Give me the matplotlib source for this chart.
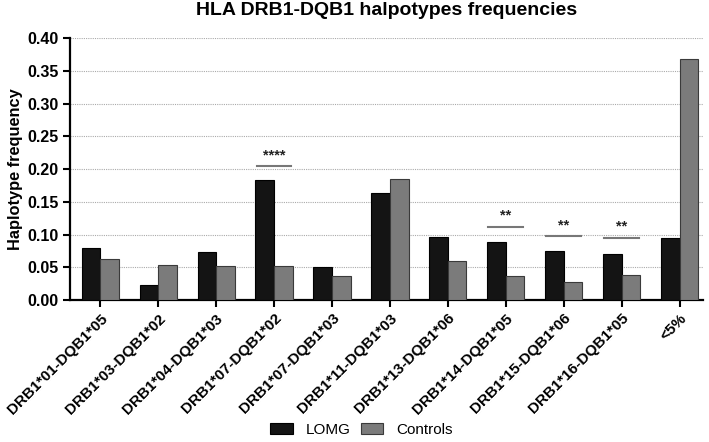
"""HLA DRB1-DQB1 haplotype frequencies bar chart."""

import matplotlib.pyplot as plt
import numpy as np

plt.rcParams["font.family"] = ["Liberation Sans", "DejaVu Sans"]

# 数据
categories = [
    "DRB1*01-DQB1*05", "DRB1*03-DQB1*02", "DRB1*04-DQB1*03",
    "DRB1*07-DQB1*02", "DRB1*07-DQB1*03", "DRB1*11-DQB1*03",
    "DRB1*13-DQB1*06", "DRB1*14-DQB1*05", "DRB1*15-DQB1*06",
    "DRB1*16-DQB1*05", "<5%",
]
lomg = [0.079, 0.023, 0.074, 0.183, 0.050, 0.163, 0.096, 0.088, 0.075, 0.070, 0.095]
controls = [0.063, 0.053, 0.052, 0.052, 0.037, 0.185, 0.059, 0.037, 0.028, 0.039, 0.368]

# 显著性标注: (类别索引, 横线高度, 星号)
sig_index = [3, 7, 8, 9]
sig_height = [0.204, 0.112, 0.098, 0.095]
sig_label = ["****", "**", "**", "**"]

x = np.arange(len(categories))
w = 0.32

fig = plt.figure(figsize=(7.09, 4.42), dpi=100)
ax = fig.add_axes([0.0987, 0.321, 0.8928, 0.593])

ax.bar(x - w / 2, lomg, w, color="#141414", edgecolor="#000000",
       linewidth=0.8, label="LOMG", zorder=3)
ax.bar(x + w / 2, controls, w, color="#7b7b7b", edgecolor="#3a3a3a",
       linewidth=0.8, label="Controls", zorder=3)

for i, h, s in zip(sig_index, sig_height, sig_label):
    ax.plot([i - 0.3, i + 0.3], [h, h], color="#777777", lw=1.5, zorder=4)
    ax.text(i, h + 0.006, s, ha="center", va="bottom", fontsize=10.5,
            fontweight="bold", color="#222222")

yticks = np.arange(0, 0.401, 0.05)
ax.set_xlim(-0.52, 10.4)
ax.set_ylim(0, 0.40)
ax.set_yticks(yticks)
ax.set_yticklabels([f"{v:.2f}" for v in yticks], fontsize=11.5,
                   fontweight="bold")
ax.set_xticks(x)
ax.set_xticklabels(categories, rotation=45, ha="right",
                   rotation_mode="anchor", fontsize=11, fontweight="bold")
ax.tick_params(axis="both", direction="out", length=5, width=1.5, pad=3)
ax.yaxis.grid(True, linestyle=(0, (1, 1)), color="#aaaaaa", linewidth=0.8,
              zorder=0)
ax.set_axisbelow(True)

for side in ("top", "right"):
    ax.spines[side].set_visible(False)
for side in ("left", "bottom"):
    ax.spines[side].set_linewidth(1.6)

ax.set_ylabel("Haplotype frequency", fontsize=11.8, fontweight="bold")
ax.yaxis.set_label_coords(-0.074, 0.5)
ax.set_title("HLA DRB1-DQB1 halpotypes frequencies", fontsize=14,
             fontweight="bold", pad=16.5)

fig.legend(loc="lower center", ncol=2, frameon=False, fontsize=11,
           bbox_to_anchor=(0.51, -0.02), handlelength=1.45,
           handleheight=0.72, columnspacing=0.7, handletextpad=0.85)

fig.savefig("out.png", dpi=100)
plt.close(fig)
